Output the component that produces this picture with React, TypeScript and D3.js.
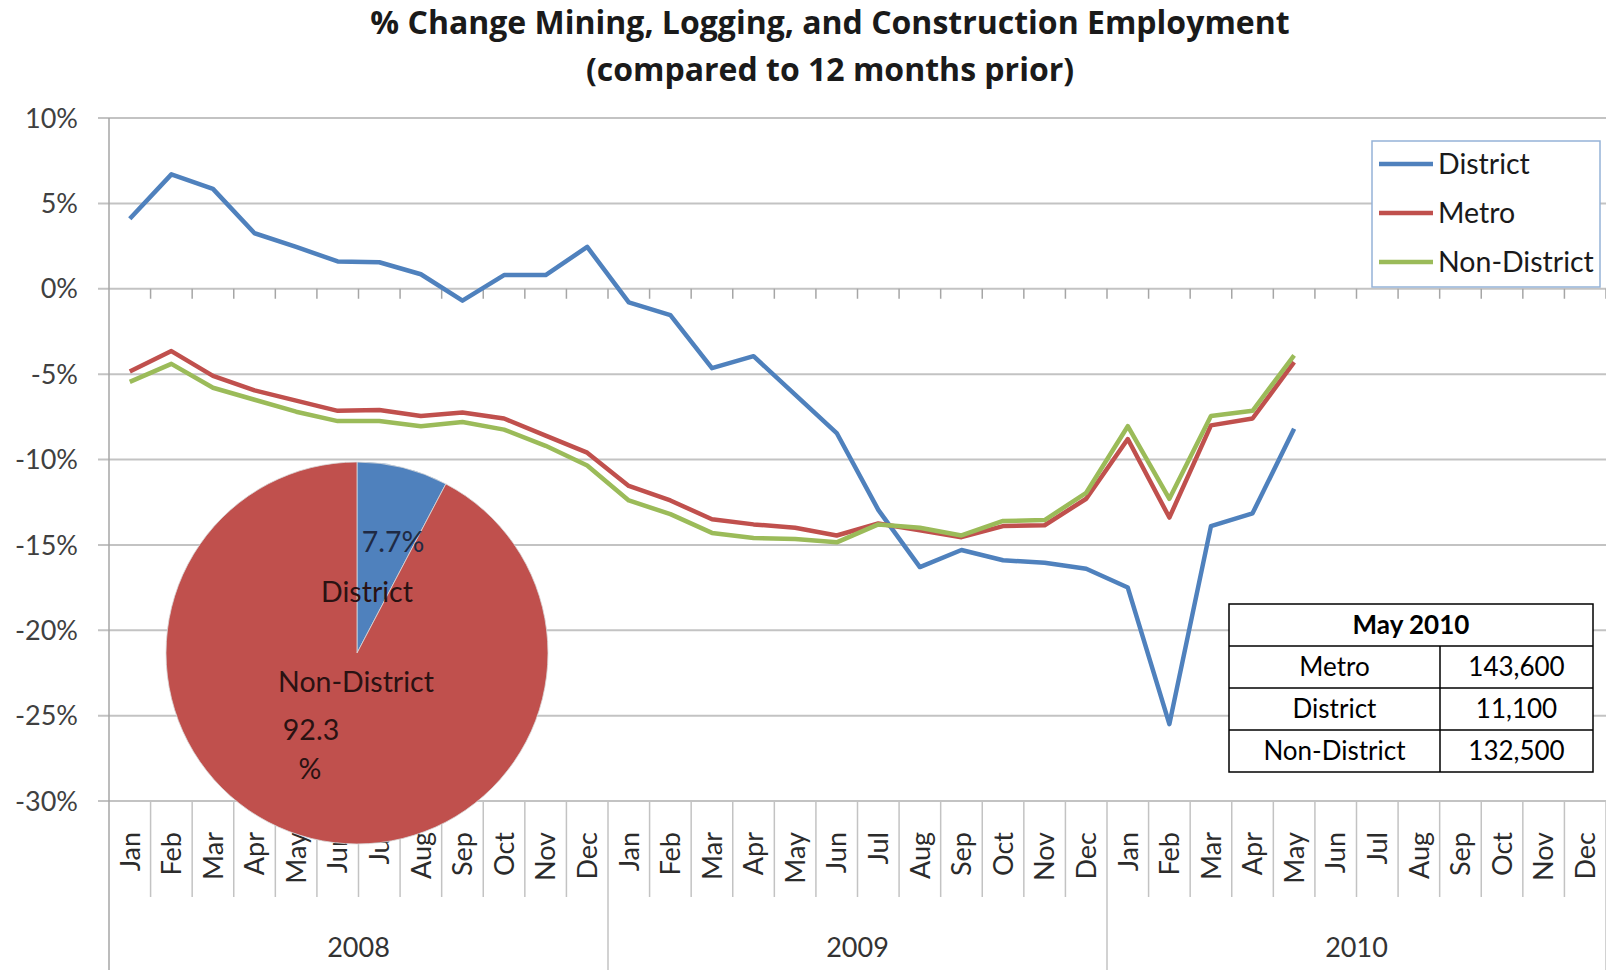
import React from "react"
import * as d3 from "d3"

// chart values (% change vs 12 months prior)
const years = ["2008", "2009", "2010"]
const months = ["Jan", "Feb", "Mar", "Apr", "May", "Jun", "Jul", "Aug", "Sep", "Oct", "Nov", "Dec"]

const district = [
  4.1, 6.7, 5.85, 3.25, 2.45, 1.6, 1.55, 0.85, -0.7, 0.8, 0.8, 2.45,
  -0.8, -1.55, -4.65, -3.95, -6.2, -8.45, -12.95, -16.3, -15.3, -15.9, -16.05, -16.4,
  -17.5, -25.5, -13.9, -13.15, -8.2,
]
const metro = [
  -4.85, -3.65, -5.1, -5.95, -6.55, -7.15, -7.1, -7.45, -7.25, -7.6, -8.6, -9.6,
  -11.55, -12.4, -13.5, -13.8, -14.0, -14.45, -13.75, -14.15, -14.55, -13.9, -13.85, -12.3,
  -8.8, -13.4, -8.0, -7.6, -4.3,
]
const nonDistrict = [
  -5.45, -4.4, -5.8, -6.5, -7.2, -7.75, -7.75, -8.05, -7.8, -8.25, -9.2, -10.35,
  -12.4, -13.2, -14.3, -14.6, -14.65, -14.85, -13.8, -14.0, -14.45, -13.6, -13.55, -11.95,
  -8.05, -12.3, -7.45, -7.15, -3.9,
]
const seriesNames = ["District", "Metro", "Non-District"]
const seriesColors = ["#4f81bd", "#c0504d", "#9bbb59"]

const yTicks = [10, 5, 0, -5, -10, -15, -20, -25, -30]

const pieNames = ["District", "Non-District"]
const pieShares = [7.7, 92.3]
const pieColors = ["#4f81bd", "#c0504d"]

const tableTitle = "May 2010"
const tableNames = ["Metro", "District", "Non-District"]
const tableValues = ["143,600", "11,100", "132,500"]

const W = 1606
const H = 970
const FONT = "Lato, 'Open Sans', sans-serif"
const TITLE_FONT = "'Open Sans', Lato, sans-serif"
const plot = { left: 109, right: 1606, top: 118, bottom: 801 }

export default function App() {
  const keys = years.flatMap(yr => months.map(m => yr + "-" + m))

  const x = d3.scaleBand<string>().domain(keys).range([plot.left, plot.right])
  const y = d3.scaleLinear().domain([-30, 10]).range([plot.bottom, plot.top])
  const bw = x.bandwidth()
  const cx = (i: number) => (x(keys[i]) as number) + bw / 2

  const line = d3.line<number>()
    .x((d, i) => cx(i))
    .y(d => y(d))

  const series = [district, metro, nonDistrict]

  // pie inset
  const pieCx = 357, pieCy = 653, pieR = 191
  const arcs = d3.pie<number>().sort(null).value(d => d)(pieShares)
  const arc = d3.arc<d3.PieArcDatum<number>>().innerRadius(0).outerRadius(pieR)

  // table inset
  const tb = { x: 1229, y: 604, w: 364, rowH: 42, split: 1440 }

  return (
    <svg width={W} height={H} style={{ position: "absolute", left: 0, top: 0 }} fontFamily={FONT}>
      <rect width={W} height={H} fill="#fff" />

      {/* title */}
      <text x={830} y={34} textAnchor="middle" fontSize={32} fontWeight="bold" fill="#1a1a1a"
        fontFamily={TITLE_FONT}>
        % Change Mining, Logging, and Construction Employment
      </text>
      <text x={830} y={81} textAnchor="middle" fontSize={32} fontWeight="bold" fill="#1a1a1a"
        fontFamily={TITLE_FONT}>
        (compared to 12 months prior)
      </text>

      {/* gridlines + y labels */}
      {yTicks.map(t => (
        <g key={t}>
          <line x1={plot.left - 11} x2={plot.right} y1={y(t)} y2={y(t)} stroke="#c3c3c3" strokeWidth={2} />
          <text x={78} y={y(t)} dy="0.36em" textAnchor="end" fontSize={27} fill="#404040">
            {t + "%"}
          </text>
        </g>
      ))}
      <line x1={plot.left} x2={plot.left} y1={plot.top} y2={H} stroke="#a6a6a6" strokeWidth={1.5} />

      {/* ticks on the zero line */}
      {keys.map(k => (
        <line key={k} x1={(x(k) as number) + bw} x2={(x(k) as number) + bw} y1={y(0)} y2={y(0) + 10}
          stroke="#a6a6a6" strokeWidth={1.5} />
      ))}

      {/* category axis: month dividers, labels, years */}
      {keys.map((k, i) => {
        const xr = (x(k) as number) + bw
        const yearEnd = (i + 1) % 12 === 0
        return (
          <line key={"d" + k} x1={xr} x2={xr} y1={plot.bottom} y2={yearEnd ? H : 897}
            stroke="#c3c3c3" strokeWidth={1.5} />
        )
      })}
      {keys.map((k, i) => (
        <text key={"m" + k} transform={`translate(${cx(i)},832) rotate(-90)`} dy="0.36em"
          textAnchor="end" fontSize={27} fill="#2b2b2b">
          {months[i % 12]}
        </text>
      ))}
      {years.map((yr, j) => (
        <text key={yr} x={(x(keys[j * 12]) as number) + bw * 6} y={957} textAnchor="middle"
          fontSize={27} fill="#333">
          {yr}
        </text>
      ))}

      {/* series */}
      {series.map((s, j) => (
        <path key={seriesNames[j]} d={line(s) as string} fill="none" stroke={seriesColors[j]}
          strokeWidth={4.5} strokeLinejoin="round" />
      ))}

      {/* legend */}
      <rect x={1372} y={141} width={228} height={146} fill="#fff" stroke="#95b3d7" strokeWidth={1.5} />
      {seriesNames.map((n, j) => (
        <g key={n} transform={`translate(1379,${164 + j * 49})`}>
          <line x1={0} x2={54} y1={0} y2={0} stroke={seriesColors[j]} strokeWidth={4.5} />
          <text x={59} y={0} dy="0.36em" fontSize={28.5} fill="#1a1a1a">{n}</text>
        </g>
      ))}

      {/* table */}
      <g>
        <rect x={tb.x} y={tb.y} width={tb.w} height={tb.rowH * 4} fill="#fff" stroke="#000" strokeWidth={1.5} />
        {[1, 2, 3].map(r => (
          <line key={r} x1={tb.x} x2={tb.x + tb.w} y1={tb.y + r * tb.rowH} y2={tb.y + r * tb.rowH}
            stroke="#000" strokeWidth={1.5} />
        ))}
        <line x1={tb.split} x2={tb.split} y1={tb.y + tb.rowH} y2={tb.y + tb.rowH * 4} stroke="#000" strokeWidth={1.5} />
        <text x={tb.x + tb.w / 2} y={tb.y + tb.rowH / 2} dy="0.36em" textAnchor="middle"
          fontSize={26} fontWeight="bold" fill="#000">{tableTitle}</text>
        {tableNames.map((n, r) => (
          <g key={n}>
            <text x={(tb.x + tb.split) / 2} y={tb.y + (r + 1.5) * tb.rowH} dy="0.36em" textAnchor="middle"
              fontSize={26} fill="#000">{n}</text>
            <text x={(tb.split + tb.x + tb.w) / 2} y={tb.y + (r + 1.5) * tb.rowH} dy="0.36em" textAnchor="middle"
              fontSize={26} fill="#000">{tableValues[r]}</text>
          </g>
        ))}
      </g>

      {/* pie inset */}
      <g transform={`translate(${pieCx},${pieCy})`} fontSize={28.5}>
        {arcs.map((a, i) => (
          <path key={pieNames[i]} d={arc(a) as string} fill={pieColors[i]} stroke="#d9d9d9" strokeWidth={0.8} />
        ))}
        <text x={36} y={-111} dy="0.36em" textAnchor="middle" fill="#1f2a44">7.7%</text>
        <text x={10} y={-61} dy="0.36em" textAnchor="middle" fill="#2a1212">District</text>
        <text x={-1} y={29} dy="0.36em" textAnchor="middle" fill="#2a1212">Non-District</text>
        <text x={-46} y={77} dy="0.36em" textAnchor="middle" fill="#2a1212">92.3</text>
        <text x={-47} y={116} dy="0.36em" textAnchor="middle" fill="#2a1212">%</text>
      </g>
    </svg>
  )
}
